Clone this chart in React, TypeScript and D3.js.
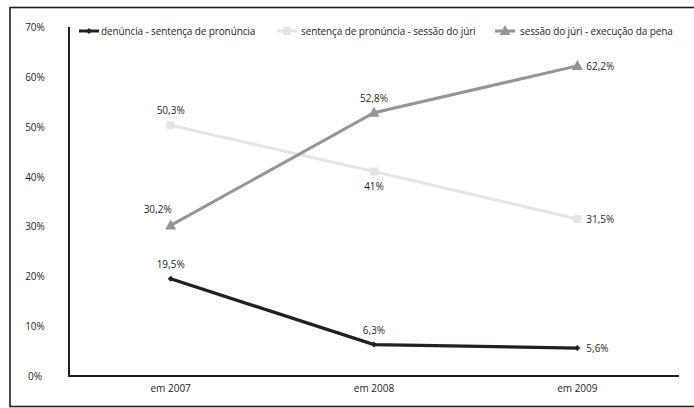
import React from "react";
import * as d3 from "d3";

const categories = ["em 2007", "em 2008", "em 2009"];
const seriesNames = [
  "denúncia - sentença de pronúncia",
  "sentença de pronúncia - sessão do júri",
  "sessão do júri - execução da pena",
];
const denunciaValues = [19.5, 6.3, 5.6];
const sentencaValues = [50.3, 41, 31.5];
const sessaoValues = [30.2, 52.8, 62.2];
const yTicks = [0, 10, 20, 30, 40, 50, 60, 70];

const W = 694;
const H = 408;
const FONT = "'Open Sans', 'Noto Sans', sans-serif";

const x = d3.scalePoint<string>().domain(categories).range([69, 679]).padding(0.5);
const y = d3.scaleLinear().domain([0, 70]).range([376, 27]);

const fmt = (v: number) => String(v).replace(".", ",") + "%";

type Series = {
  name: string;
  values: number[];
  color: string;
  marker: "diamond" | "square" | "triangle";
  labelPos: ("above" | "aboveLeft" | "below" | "right")[];
};

const series: Series[] = [
  { name: seriesNames[0], values: denunciaValues, color: "#231f20", marker: "diamond", labelPos: ["above", "above", "right"] },
  { name: seriesNames[1], values: sentencaValues, color: "#e3e4e5", marker: "square", labelPos: ["above", "below", "right"] },
  { name: seriesNames[2], values: sessaoValues, color: "#939598", marker: "triangle", labelPos: ["aboveLeft", "above", "right"] },
];

function Marker({ type, cx, cy, color }: { type: string; cx: number; cy: number; color: string }) {
  if (type === "diamond") {
    return <path d={`M${cx - 3},${cy} L${cx},${cy - 3} L${cx + 3},${cy} L${cx},${cy + 3}Z`} fill={color} />;
  }
  if (type === "square") {
    return <rect x={cx - 4} y={cy - 4} width={8} height={8} fill={color} />;
  }
  return <path d={`M${cx - 5.5},${cy + 4} L${cx},${cy - 6} L${cx + 5.5},${cy + 4}Z`} fill={color} />;
}

export default function App() {
  const line = d3
    .line<number>()
    .x((_, i) => x(categories[i]) as number)
    .y((d) => y(d));

  const legendItems = [
    { lx: 79, tx: 101 },
    { lx: 277, tx: 301 },
    { lx: 495, tx: 520 },
  ];

  return (
    <svg width={W} height={H} style={{ position: "absolute", left: 0, top: 0, display: "block" }}>
      <rect x={0} y={0} width={W} height={H} fill="#fff" />
      <rect x={10} y={7.5} width={W + 10} height={399} fill="none" stroke="#231f20" strokeWidth={1.6} />

      {yTicks.map((t) => (
        <text key={t} x={35} y={y(t)} textAnchor="middle" dominantBaseline="central" fontFamily={FONT} fontSize={10} fill="#231f20">
          {t}%
        </text>
      ))}

      <line x1={69} x2={69} y1={y(70)} y2={y(0)} stroke="#231f20" strokeWidth={2} />
      <line x1={68} x2={679} y1={y(0)} y2={y(0)} stroke="#231f20" strokeWidth={2} />

      {categories.map((c) => (
        <text key={c} x={x(c)} y={388} textAnchor="middle" dominantBaseline="central" fontFamily={FONT} fontSize={10} fill="#231f20">
          {c}
        </text>
      ))}

      {series.map((s) => (
        <g key={s.name}>
          <path d={line(s.values) || ""} fill="none" stroke={s.color} strokeWidth={s.marker === "diamond" ? 3.3 : 3} />
          {s.values.map((v, i) => (
            <Marker key={i} type={s.marker} cx={x(categories[i]) as number} cy={y(v)} color={s.color} />
          ))}
          {s.values.map((v, i) => {
            const cx = x(categories[i]) as number;
            const cy = y(v);
            const pos = s.labelPos[i];
            let lx = cx, ly = cy - 15, anchor: "middle" | "start" = "middle";
            if (pos === "below") ly = cy + 14;
            if (pos === "aboveLeft") { lx = cx - 13; ly = cy - 16; }
            if (pos === "right") { lx = cx + 9; ly = cy; anchor = "start"; }
            return (
              <text key={"l" + i} x={lx} y={ly} textAnchor={anchor} dominantBaseline="central" fontFamily={FONT} fontSize={10} fill="#231f20">
                {fmt(v)}
              </text>
            );
          })}
        </g>
      ))}

      {series.map((s, i) => {
        const it = legendItems[i];
        const cy = 31;
        return (
          <g key={"leg" + i}>
            <line x1={it.lx} x2={it.lx + 20} y1={cy} y2={cy} stroke={s.color} strokeWidth={3} />
            <Marker type={s.marker} cx={it.lx + 10} cy={cy} color={s.color} />
            <text x={it.tx} y={cy} dominantBaseline="central" fontFamily={FONT} fontSize={10} letterSpacing={-0.12} fill="#231f20">
              {s.name}
            </text>
          </g>
        );
      })}
    </svg>
  );
}
